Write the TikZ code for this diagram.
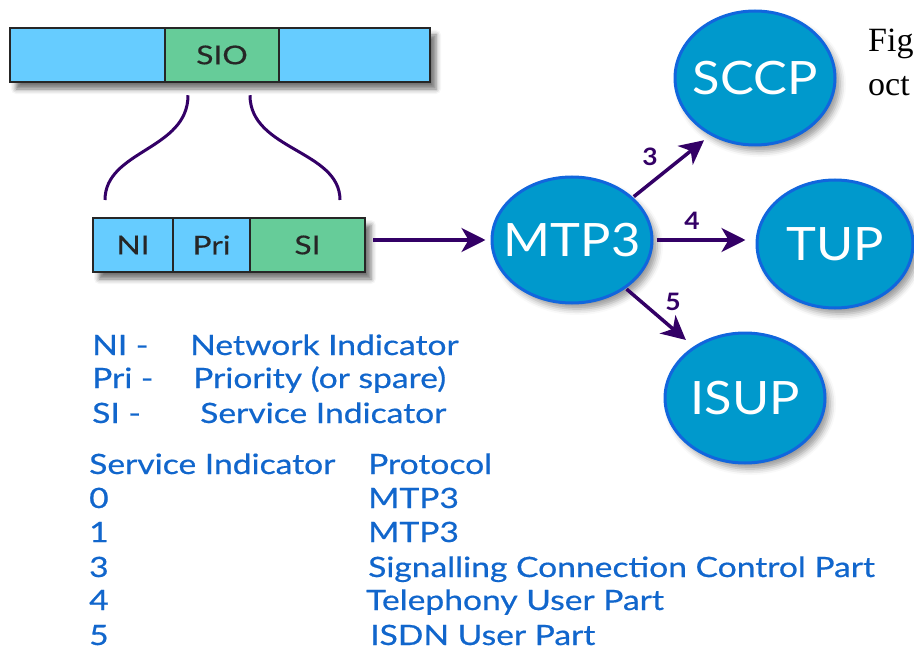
\documentclass[tikz,border=0pt]{standalone}
\usepackage{fontspec}
\setmainfont{Liberation Serif}
\newfontfamily\gill[FakeStretch=1.2,FakeBold=0.6]{Lato}
\newfontfamily\gillbox[FakeStretch=1.22,FakeBold=0.4]{Lato}
\newfontfamily\gillball[FakeStretch=1.1]{Lato}
\usetikzlibrary{shapes.geometric,shadows.blur,arrows.meta}
\definecolor{cellblue}{HTML}{66CCFF}
\definecolor{cellgreen}{HTML}{66CC99}
\definecolor{ballfill}{HTML}{0099CC}
\definecolor{balledge}{HTML}{1166DD}
\definecolor{arrcol}{HTML}{330066}
\definecolor{legendblue}{HTML}{1166CC}
\tikzset{
  cell/.style={draw=black!85, line width=2.5pt, minimum height=54pt, inner sep=0pt,
    text=black!85, font=\gillbox\fontsize{26}{26}\selectfont},
  barshade/.style={inner sep=0pt, minimum height=54pt, fill=white,
    blur shadow={shadow xshift=6pt, shadow yshift=-7pt, shadow blur radius=5pt, shadow opacity=55}},
  ball/.style={ellipse, inner sep=0pt, fill=ballfill, draw=balledge, line width=3pt,
    blur shadow={shadow xshift=5pt, shadow yshift=-6pt, shadow blur radius=6pt, shadow opacity=40}},
  balltext/.style={text=white, inner sep=0pt, font=\gillball\fontsize{46}{46}\selectfont},
  flow/.style={draw=arrcol, line width=3.5pt, -{Stealth[length=24pt,width=24pt,inset=7pt]}},
  link/.style={draw=arrcol, line width=3pt},
  lbl/.style={text=arrcol, font=\gillball\bfseries\fontsize{24}{24}\selectfont, inner sep=0pt},
  leg/.style={text=legendblue, font=\gill\fontsize{28}{28}\selectfont, anchor=base west, inner sep=0pt},
  fig/.style={font=\fontsize{34}{34}\selectfont, anchor=base west, inner sep=0pt}
}
\begin{document}
\begin{tikzpicture}[x=1pt,y=-1pt]
\useasboundingbox (0,0) rectangle (914,650);
\clip (0,0) rectangle (914,650);
% top frame
\node[barshade, minimum width=420pt] (topbar) at (220,55) {};
\node[cell, fill=cellblue, minimum width=155pt] (t1) at (87.5,55) {};
\node[cell, fill=cellgreen, minimum width=114pt] (sio) at (222,55) {SIO};
\node[cell, fill=cellblue, minimum width=151pt] (t3) at (354.5,55) {};
% lower frame
\node[barshade, minimum width=272pt] (lowbar) at (229,245) {};
\node[cell, fill=cellblue, minimum width=80pt] (ni) at (133,245) {NI};
\node[cell, fill=cellblue, minimum width=77pt] (pri) at (211.5,245) {Pri};
\node[cell, fill=cellgreen, minimum width=115pt] (si) at (307.5,245) {SI};
% curves
\coordinate (cl) at (105,200);
\coordinate (cr) at (340,200);
\draw[link] ([xshift=-34pt,yshift=-12pt]sio.south) .. controls +(0,55) and +(0,-50) .. (cl);
\draw[link] ([xshift=28pt,yshift=-12pt]sio.south) .. controls +(0,55) and +(0,-50) .. (cr);
% balls
\node[ball, minimum width=160pt, minimum height=126pt, label={[balltext]center:MTP3}] (mtp3) at (572,240) {};
\node[ball, minimum width=160pt, minimum height=134pt, label={[balltext]center:SCCP}] (sccp) at (755,78) {};
\node[ball, minimum width=156pt, minimum height=128pt, label={[balltext]center:TUP}] (tup) at (835,244) {};
\node[ball, minimum width=160pt, minimum height=130pt, label={[balltext]center:ISUP}] (isup) at (745,398) {};
% arrows
\draw[flow, shorten <=7pt, shorten >=5pt] (si.east |- mtp3) -- (mtp3.west);
\draw[flow, shorten <=1pt, shorten >=8pt] (mtp3.35) -- (sccp.232);
\draw[flow, shorten <=3pt, shorten >=10pt] (mtp3.east) -- (mtp3.east -| tup.west);
\draw[flow, shorten <=1pt, shorten >=10pt] (mtp3.-42) -- (isup.135);
\node[lbl] (l3) at (650,157) {3};
\node[lbl] (l4) at (692,221) {4};
\node[lbl] (l5) at (673,302) {5};
% figure caption fragment
\node[fig] (fig) at (868,52) {Fig};
\node[fig] (oct) at (868,96) {oct};
% legend
\node[leg] (k1) at (92,355) {NI -};
\node[leg] (v1) at (190,355) {Network Indicator};
\node[leg] (k2) at (92,388) {Pri -};
\node[leg] (v2) at (193,388) {Priority (or spare)};
\node[leg] (k3) at (92,423) {SI -};
\node[leg] (v3) at (200,423) {Service Indicator};
\node[leg] (h1) at (89,474) {Service Indicator};
\node[leg] (h2) at (368,474) {Protocol};
\node[leg] (r0) at (89,508) {0};
\node[leg] (p0) at (368,508) {MTP3};
\node[leg] (r1) at (89,542) {1};
\node[leg] (p1) at (368,542) {MTP3};
\node[leg] (r3) at (89,577) {3};
\node[leg] (p3) at (368,577) {Signalling Connection Control Part};
\node[leg] (r4) at (89,610) {4};
\node[leg] (p4) at (366,610) {Telephony User Part};
\node[leg] (r5) at (89,645) {5};
\node[leg] (p5) at (370,645) {ISDN User Part};
\end{tikzpicture}
\end{document}
